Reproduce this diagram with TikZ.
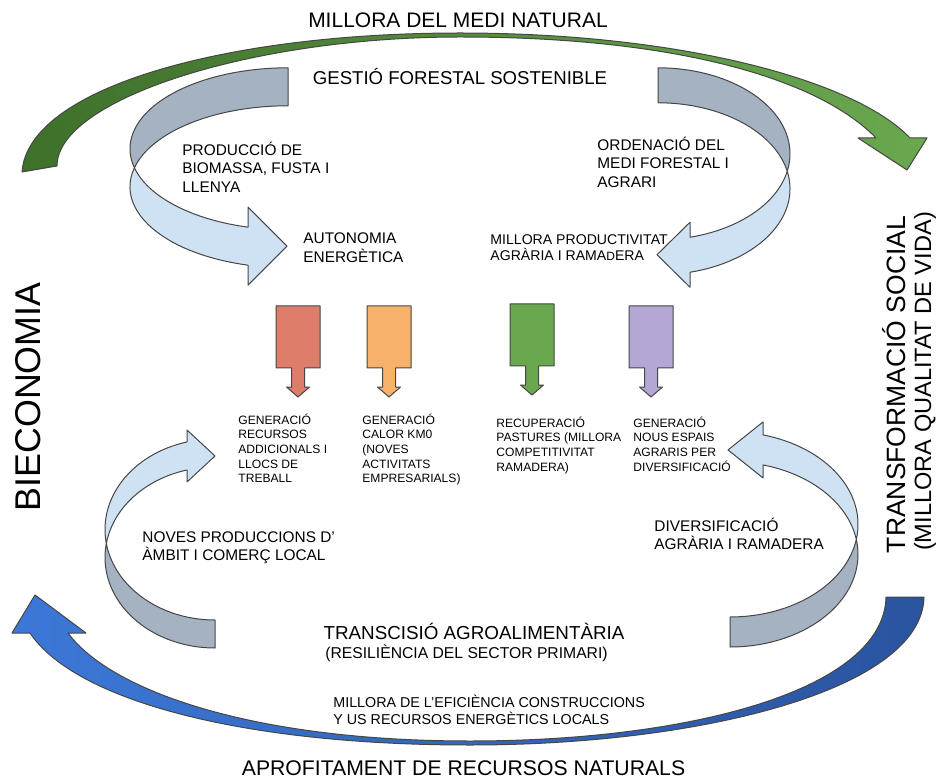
\documentclass[tikz,border=0pt]{standalone}
\usepackage{fontspec}
\setmainfont{Liberation Sans}
\usepackage{tikz}
\usepackage{xcolor}
\usetikzlibrary{calc}
\definecolor{backcol}{RGB}{164,178,194}
\definecolor{frontcol}{RGB}{207,226,243}
\definecolor{edgecol}{RGB}{70,70,70}
\definecolor{boxred}{RGB}{221,126,107}
\definecolor{boxorange}{RGB}{246,178,107}
\definecolor{boxgreen}{RGB}{106,168,79}
\definecolor{boxpurple}{RGB}{180,167,214}
\definecolor{greendark}{RGB}{62,112,42}
\definecolor{greenlight}{RGB}{106,168,79}
\definecolor{bluelight}{RGB}{60,120,216}
\definecolor{bluedark}{RGB}{42,84,160}
\tikzstyle{shell} = [draw=edgecol, line width=0.5pt, line join=round]
\tikzstyle{lbl} = [inner sep=0pt, align=left, anchor=north west]
\tikzstyle{title} = [inner sep=0pt, anchor=base]
\tikzset{
  pics/ribbon/.style n args={6}{code={
    \pgfmathsetmacro\ribtw{asin(#3/(2*#2))}
    \pgfmathsetmacro\ribend{acos(-#4/#1)}
    \pgfmathsetmacro\ribdy{#2*sin(\ribend)}
    % back side, from the tail to the twist
    \filldraw[shell, fill=backcol] (0,-#2)
      arc[start angle=270, end angle={180-\ribtw}, x radius=#1, y radius=#2]
      arc[start angle={180+\ribtw}, end angle=270, x radius=#1, y radius=#2] -- cycle;
    % front side, from the twist to the head
    \filldraw[shell, fill=frontcol] ({180-\ribtw}:#1 and #2)
      arc[start angle={180-\ribtw}, end angle=\ribend, x radius=#1, y radius=#2]
      -- ++(0,-#5) -- ({#6-#4},{\ribdy+#3/2}) -- ({-#4},{\ribdy+#3+#5})
      -- ({-#4},{\ribdy+#3})
      arc[start angle=\ribend, end angle={180+\ribtw}, x radius=#1, y radius=#2] -- cycle;
  }}
}

\begin{document}
\begin{tikzpicture}[x=0.5pt, y=-0.5pt]
    \useasboundingbox (0,0) rectangle (936,780);
    \fill[white] (0,0) rectangle (936,780);

    % Big green arrow
    \path[shell, left color=greendark, right color=greenlight]
      (22,172) .. controls (28,88) and (225,33) .. (460,33)
      .. controls (680,33) and (855,80) .. (910,138)
      -- (927,138) -- (907,170) -- (858,138) -- (876,138)
      .. controls (820,80) and (680,37) .. (460,37)
      .. controls (250,37) and (57,100) .. (57,166) -- cycle;

    % Big blue arrow
    \path[shell, left color=bluelight, right color=bluedark]
      (924,597) .. controls (922,690) and (700,745) .. (470,745)
      .. controls (240,745) and (75,700) .. (30,633)
      -- (12,633) -- (35,595) -- (86,633) -- (68,633)
      .. controls (110,690) and (250,741) .. (470,741)
      .. controls (690,741) and (884,690) .. (886,597) -- cycle;

    % Curved ribbons
    \pic at (288,148.8) {ribbon={158}{81}{38}{40}{20}{39}};
    \pic[xscale=-1] at (658,153.8) {ribbon={132}{86}{35}{32}{15}{33}};
    \pic[yscale=-1] at (215,557.5) {ribbon={110}{90.5}{28}{28}{12}{28}};
    \pic[xscale=-1, yscale=-1] at (730,554.4) {ribbon={128}{92.6}{30}{33}{13}{35}};

    % Coloured boxes
    \foreach \cx/\ytop/\col in {298/306/boxred, 389/306/boxorange, 532/304/boxgreen, 651/306/boxpurple} {
        \filldraw[shell, fill=\col] ({\cx-22},\ytop) -- ({\cx+22},\ytop) -- ({\cx+22},{\ytop+62})
          -- ({\cx+6.5},{\ytop+62}) -- ({\cx+6.5},{\ytop+81}) -- ({\cx+11.5},{\ytop+81})
          -- (\cx,{\ytop+91}) -- ({\cx-11.5},{\ytop+81}) -- ({\cx-6.5},{\ytop+81})
          -- ({\cx-6.5},{\ytop+62}) -- ({\cx-22},{\ytop+62}) -- cycle;
    }

    % Titles
    \node[title, font=\fontsize{10.5}{12}\selectfont] (medi) at (458,27.5) {MILLORA DEL MEDI NATURAL};
    \node[title, font=\fontsize{9.3}{11}\selectfont] (gestio) at (460,84.7) {GESTIÓ FORESTAL SOSTENIBLE};
    \node[title, font=\fontsize{9.4}{11}\selectfont] (transicio) at (474,639.6) {TRANSCISIÓ AGROALIMENTÀRIA};
    \node[title, font=\fontsize{7.85}{10}\selectfont] (resiliencia) at (466.5,658.6) {(RESILIÈNCIA DEL SECTOR PRIMARI)};
    \node[title, font=\fontsize{10.6}{12}\selectfont] (aprofitament) at (463.5,775.4) {APROFITAMENT DE RECURSOS NATURALS};
    \node[title, rotate=90, font=\fontsize{17.9}{20}\selectfont] (bioeconomia) at (40,397) {BIECONOMIA};
    \node[title, rotate=90, font=\fontsize{13.25}{15}\selectfont] (transformacio) at (905,384.5) {TRANSFORMACIÓ SOCIAL};
    \node[title, rotate=90, font=\fontsize{11.8}{14}\selectfont] (qualitat) at (931,381.5) {(MILLORA QUALITAT DE VIDA)};

    % Ribbon labels
    \node[lbl, font=\fontsize{7.7}{9.25}\selectfont] (biomassa) at (182,141.3) {PRODUCCIÓ DE\\BIOMASSA, FUSTA I\\LLENYA};
    \node[lbl, font=\fontsize{7.7}{9.5}\selectfont] (autonomia) at (303,232.5) {AUTONOMIA\\ENERGÈTICA};
    \node[lbl, font=\fontsize{7.7}{9.25}\selectfont] (ordenacio) at (597,136.3) {ORDENACIÓ DEL\\MEDI FORESTAL I\\AGRARI};
    \node[lbl, font=\fontsize{7.05}{8.3}\selectfont] (productivitat) at (490,233.9) {MILLORA PRODUCTIVITAT\\AGRÀRIA I RAMA{\fontsize{6}{8.3}\selectfont D}ERA};
    \node[lbl, font=\fontsize{7.7}{9}\selectfont] (noves) at (142,531.5) {NOVES PRODUCCIONS D'\\ÀMBIT I COMERÇ LOCAL};
    \node[lbl, font=\fontsize{7.7}{9}\selectfont] (diversificacio) at (654,517.3) {DIVERSIFICACIÓ\\AGRÀRIA I RAMADERA};
    \node[lbl, font=\fontsize{7.15}{8.5}\selectfont] (eficiencia) at (333,694.9) {MILLORA DE L’EFICIÈNCIA CONSTRUCCIONS\\Y US RECURSOS ENERGÈTICS LOCALS};

    % Box labels
    \node[lbl, font=\fontsize{6.05}{7.35}\selectfont] (genrecursos) at (238,413.2) {GENERACIÓ\\RECURSOS\\ADDICIONALS I\\LLOCS DE\\TREBALL};
    \node[lbl, font=\fontsize{6.05}{7.35}\selectfont] (gencalor) at (362,413.2) {GENERACIÓ\\CALOR KM0\\(NOVES\\ACTIVITATS\\EMPRESARIALS)};
    \node[lbl, font=\fontsize{6.05}{7.35}\selectfont] (pastures) at (496,416.2) {RECUPERACIÓ\\PASTURES (MILLORA\\COMPETITIVITAT\\RAMADERA)};
    \node[lbl, font=\fontsize{6.05}{7.35}\selectfont] (espais) at (633,416.2) {GENERACIÓ\\NOUS ESPAIS\\AGRARIS PER\\DIVERSIFICACIÓ};

\end{tikzpicture}
\end{document}
